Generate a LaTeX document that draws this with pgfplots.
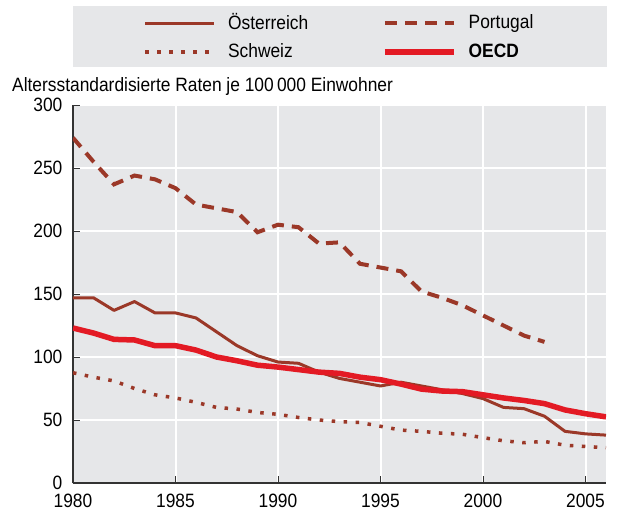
\documentclass[border=0pt]{standalone}
\usepackage{fontspec}
\setmainfont{Liberation Sans}[FakeStretch=0.9]
\usepackage{pgfplots}
\pgfplotsset{compat=1.18}
\definecolor{bgray}{RGB}{230,231,233}
\definecolor{brn}{RGB}{155,56,40}
\definecolor{ored}{RGB}{227,26,36}
\definecolor{axdark}{RGB}{51,51,51}
\begin{document}
\fontsize{19.3}{23}\selectfont
\begin{tikzpicture}
\useasboundingbox (-73pt,-32pt) rectangle (545pt,483pt);
\fill[bgray] (0pt,416pt) rectangle (534pt,477pt);
\begin{axis}[
  at={(0pt,0pt)}, anchor=south west,
  scale only axis, width=533pt, height=378pt,
  xmin=1980, xmax=2006, ymin=0, ymax=300,
  xtick={1980,1985,...,2005}, ytick={0,50,...,300},
  axis x line*=bottom, axis y line*=left,
  axis line style={axdark, line width=1.5pt, -},
  tick style={axdark, line width=1pt},
  major tick length=7pt,
  tick align=inside,
  grid=major, grid style={white, line width=2pt},
  axis background/.style={fill=bgray},
  /pgf/number format/1000 sep={},
  /pgf/number format/assume math mode=true,
  tick label style={font=\fontsize{19.3}{23}\selectfont},
  xticklabel style={yshift=-4pt},
  yticklabel style={xshift=-4pt},
  legend columns=2,
  legend cell align=left,
  legend image code/.code={\draw[#1] (0pt,0pt) -- (69pt,0pt);},
  legend style={at={(0.5,1)}, anchor=center, yshift=68pt, draw=none, fill=none,
    font=\fontsize{19.3}{23}\selectfont,
    /tikz/every even column/.append style={column sep=72pt},
    /tikz/every odd column/.append style={column sep=10pt},
    row sep=7pt},
]
\addplot[brn, line width=3pt, line join=round] coordinates {
(1980,147)(1981,147)(1982,137)(1983,144)(1984,135)(1985,135)(1986,131)(1987,120)
(1988,109)(1989,101)(1990,96)(1991,95)(1992,88)(1993,83)(1994,80)(1995,77)
(1996,80)(1997,77)(1998,74)(1999,71)(2000,67)(2001,60)(2002,59)(2003,53)
(2004,41)(2005,39)(2006,38)};
\addlegendentry{Österreich}
\addplot[brn, line width=4pt, dash pattern=on 12pt off 8pt] coordinates {
(1980,274)(1981,255)(1982,237)(1983,244)(1984,241)(1985,234)(1986,221)(1987,218)
(1988,215)(1989,199)(1990,205)(1991,203)(1992,190)(1993,191)(1994,174)(1995,171)
(1996,168)(1997,152)(1998,147)(1999,141)(2000,133)(2001,125)(2002,117)(2003,112)};
\addlegendentry{Portugal}
\addplot[brn, line width=3.5pt, dash pattern=on 3.5pt off 8.5pt] coordinates {
(1980,87.5)(1981,84)(1982,81)(1983,75)(1984,70)(1985,67.5)(1986,64)(1987,60)
(1988,58.7)(1989,56)(1990,54.5)(1991,52)(1992,50)(1993,48.7)(1994,48)(1995,45)
(1996,42)(1997,41)(1998,39.5)(1999,38.7)(2000,36)(2001,33.5)(2002,32)(2003,33)
(2004,30)(2005,29)(2006,28)};
\addlegendentry{Schweiz}
\addplot[ored, line width=5.5pt, line join=round] coordinates {
(1980,123)(1981,119)(1982,114)(1983,113.5)(1984,109)(1985,109)(1986,105.5)(1987,100)
(1988,97)(1989,93.5)(1990,92)(1991,90)(1992,88)(1993,87)(1994,84)(1995,82)
(1996,78.5)(1997,74.5)(1998,73)(1999,72.5)(2000,70)(2001,67.5)(2002,65.5)(2003,63)
(2004,58)(2005,55)(2006,52.5)};
\addlegendentry{\textbf{OECD}}
\end{axis}
\node[anchor=base west, inner sep=0pt] at (-61pt,391pt) {Altersstandardisierte Raten je 100\,000 Einwohner};
\end{tikzpicture}
\end{document}
